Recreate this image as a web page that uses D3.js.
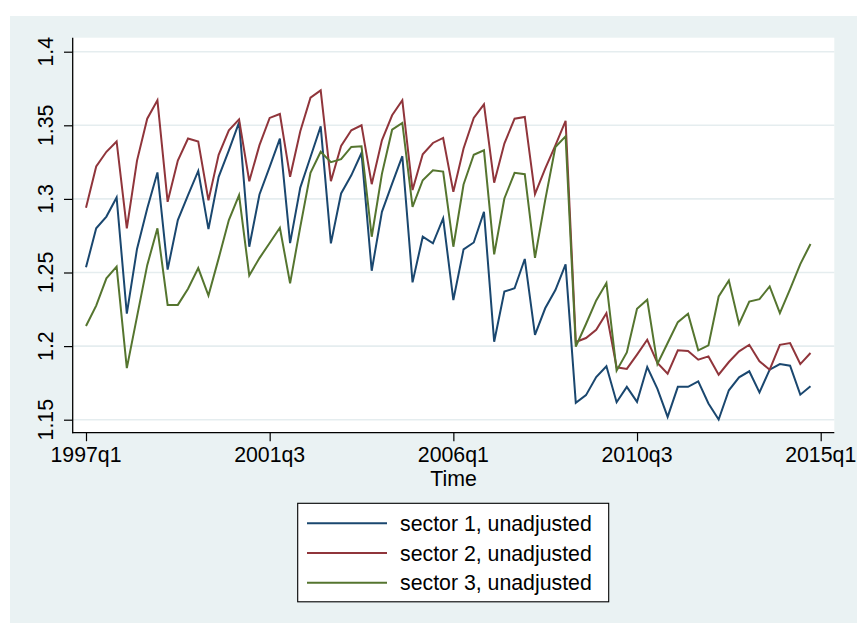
<!DOCTYPE html>
<html>
<head>
<meta charset="utf-8">
<script src="https://cdn.jsdelivr.net/npm/d3@7"></script>
<style>
  html, body { margin: 0; padding: 0; background: #ffffff; }
  svg { display: block; }
  text { font-family: "Liberation Sans", Arial, sans-serif; fill: #000; }
</style>
</head>
<body>
<svg id="chart" width="857" height="624"></svg>
<script>
// Quarterly observations 1997q1 .. 2014q4 (index 0 = 1997q1)
const quarterCount = 72;
const sector1 = [
  1.2535, 1.280, 1.288, 1.301, 1.222, 1.266, 1.2935, 1.318, 1.252, 1.2856,
  1.3025, 1.319, 1.2795, 1.315, 1.333, 1.352, 1.2675, 1.303, 1.3218, 1.341,
  1.270, 1.3077, 1.3285, 1.3493, 1.2698, 1.3037, 1.316, 1.3312, 1.2512, 1.2912,
  1.3104, 1.329, 1.2433, 1.2743, 1.2698, 1.2867, 1.2313, 1.2657, 1.2704, 1.2912,
  1.203, 1.237, 1.2393, 1.2592, 1.2076, 1.2257, 1.2381, 1.2555, 1.1614, 1.1667,
  1.179, 1.1863, 1.1619, 1.1723, 1.1621, 1.1858, 1.1709, 1.1519, 1.1723, 1.1723,
  1.1761, 1.161, 1.1501, 1.170, 1.1788, 1.1829, 1.1686, 1.184, 1.1878, 1.1867,
  1.167, 1.1727
];
const sector2 = [
  1.294, 1.322, 1.332, 1.339, 1.280, 1.326, 1.3545, 1.367, 1.298, 1.326,
  1.341, 1.339, 1.299, 1.330, 1.3466, 1.354, 1.312, 1.3365, 1.355, 1.3577,
  1.315, 1.346, 1.3688, 1.3737, 1.312, 1.336, 1.3466, 1.350, 1.310, 1.3398,
  1.3568, 1.367, 1.306, 1.3303, 1.338, 1.3414, 1.3048, 1.3342, 1.355, 1.3642,
  1.311, 1.3376, 1.3545, 1.3557, 1.3032, 1.3206, 1.3364, 1.353, 1.2028, 1.2055,
  1.2111, 1.2224, 1.1856, 1.1845, 1.1942, 1.2043, 1.1885, 1.1813, 1.1971, 1.1967,
  1.1908, 1.193, 1.1806, 1.1892, 1.1964, 1.2009, 1.1897, 1.184, 1.2009, 1.2021,
  1.1878, 1.1953
];
const sector3 = [
  1.2137, 1.2275, 1.246, 1.254, 1.185, 1.220, 1.255, 1.280, 1.228, 1.228,
  1.239, 1.253, 1.2343, 1.2596, 1.2856, 1.3025, 1.248, 1.2598, 1.270, 1.2804,
  1.2426, 1.281, 1.3177, 1.332, 1.325, 1.327, 1.3353, 1.3358, 1.2743, 1.317,
  1.347, 1.3516, 1.2946, 1.3127, 1.3195, 1.3186, 1.2675, 1.3098, 1.330, 1.333,
  1.2623, 1.3003, 1.3177, 1.3168, 1.260, 1.2992, 1.3353, 1.3425, 1.1996, 1.215,
  1.231, 1.2428, 1.1833, 1.1957, 1.2254, 1.2315, 1.1878, 1.2021, 1.2163, 1.222,
  1.1971, 1.2005, 1.2337, 1.2446, 1.215, 1.2303, 1.2319, 1.2405, 1.2224, 1.2387,
  1.2557, 1.2694
];
const seriesNames = ["sector 1, unadjusted", "sector 2, unadjusted", "sector 3, unadjusted"];
const seriesColors = ["#1a476f", "#90353b", "#55752f"];
const yTicks = [1.15, 1.2, 1.25, 1.3, 1.35, 1.4];
const yTickLabels = ["1.15", "1.2", "1.25", "1.3", "1.35", "1.4"];
const xTicks = [0, 18, 36, 54, 72];
const xTickLabels = ["1997q1", "2001q3", "2006q1", "2010q3", "2015q1"];
const xTitle = "Time";

const svg = d3.select("#chart");
const W = 857, H = 624;
const FONT = "21.3px";

// outer graph region
svg.append("rect").attr("x", 10).attr("y", 16).attr("width", W - 10).attr("height", 607)
  .attr("fill", "#eaf2f3");

const plot = { left: 72.7, right: 834.3, top: 37.7, bottom: 432.7 };
svg.append("rect").attr("x", plot.left).attr("y", plot.top)
  .attr("width", plot.right - plot.left).attr("height", plot.bottom - plot.top)
  .attr("fill", "#ffffff");

const x = d3.scaleLinear().domain([0, 72]).range([86, 820.7]);
const y = d3.scaleLinear().domain([1.15, 1.4]).range([419.7, 51.7]);

// gridlines
svg.append("g").selectAll("line").data(yTicks).join("line")
  .attr("x1", plot.left).attr("x2", plot.right)
  .attr("y1", d => y(d)).attr("y2", d => y(d))
  .attr("stroke", "#e5edef").attr("stroke-width", 1.6);

// series lines
const series = [sector1, sector2, sector3];
const line = d3.line().x((d, i) => x(i)).y(d => y(d));
series.forEach((s, k) => {
  svg.append("path").datum(s.slice(0, quarterCount))
    .attr("d", line).attr("fill", "none")
    .attr("stroke", seriesColors[k]).attr("stroke-width", 2)
    .attr("stroke-linejoin", "miter");
});

// y axis
const yAxis = d3.axisLeft(y).tickValues(yTicks).tickSize(8.7)
  .tickFormat((d, i) => yTickLabels[i]);
const yg = svg.append("g").attr("transform", `translate(${plot.left},0)`).call(yAxis);
yg.select(".domain").remove();
yg.selectAll(".tick line").attr("stroke", "#000").attr("stroke-width", 1.2);
yg.selectAll(".tick text").remove();
svg.append("line").attr("x1", plot.left).attr("x2", plot.left)
  .attr("y1", plot.top).attr("y2", plot.bottom + 0.6)
  .attr("stroke", "#000").attr("stroke-width", 1.3);
svg.append("g").selectAll("text").data(yTicks).join("text")
  .attr("transform", d => `translate(53,${y(d)}) rotate(-90)`)
  .attr("text-anchor", "middle")
  .style("font-size", FONT)
  .text((d, i) => yTickLabels[i]);

// x axis
const xAxis = d3.axisBottom(x).tickValues(xTicks).tickSize(8.5)
  .tickFormat((d, i) => xTickLabels[i]);
const xg = svg.append("g").attr("transform", `translate(0,${plot.bottom})`).call(xAxis);
xg.select(".domain").remove();
xg.selectAll(".tick line").attr("stroke", "#000").attr("stroke-width", 1.2);
xg.selectAll(".tick text").remove();
svg.append("line").attr("x1", plot.left - 0.6).attr("x2", plot.right)
  .attr("y1", plot.bottom).attr("y2", plot.bottom)
  .attr("stroke", "#000").attr("stroke-width", 1.3);
svg.append("g").selectAll("text").data(xTicks).join("text")
  .attr("x", d => x(d)).attr("y", 462)
  .attr("text-anchor", "middle")
  .style("font-size", FONT)
  .text((d, i) => xTickLabels[i]);

svg.append("text").attr("x", (plot.left + plot.right) / 2).attr("y", 485.5)
  .attr("text-anchor", "middle").style("font-size", FONT).text(xTitle);

// legend
const lg = svg.append("g");
lg.append("rect").attr("x", 297.7).attr("y", 503.3).attr("width", 311).attr("height", 98.5)
  .attr("fill", "#ffffff").attr("stroke", "#000").attr("stroke-width", 1.1);
seriesNames.forEach((name, k) => {
  const cy = 523.3 + k * 29.7;
  lg.append("line").attr("x1", 307).attr("x2", 387).attr("y1", cy).attr("y2", cy)
    .attr("stroke", seriesColors[k]).attr("stroke-width", 2);
  lg.append("text").attr("x", 400).attr("y", cy + 7.7)
    .style("font-size", FONT).text(name);
});
</script>
</body>
</html>
